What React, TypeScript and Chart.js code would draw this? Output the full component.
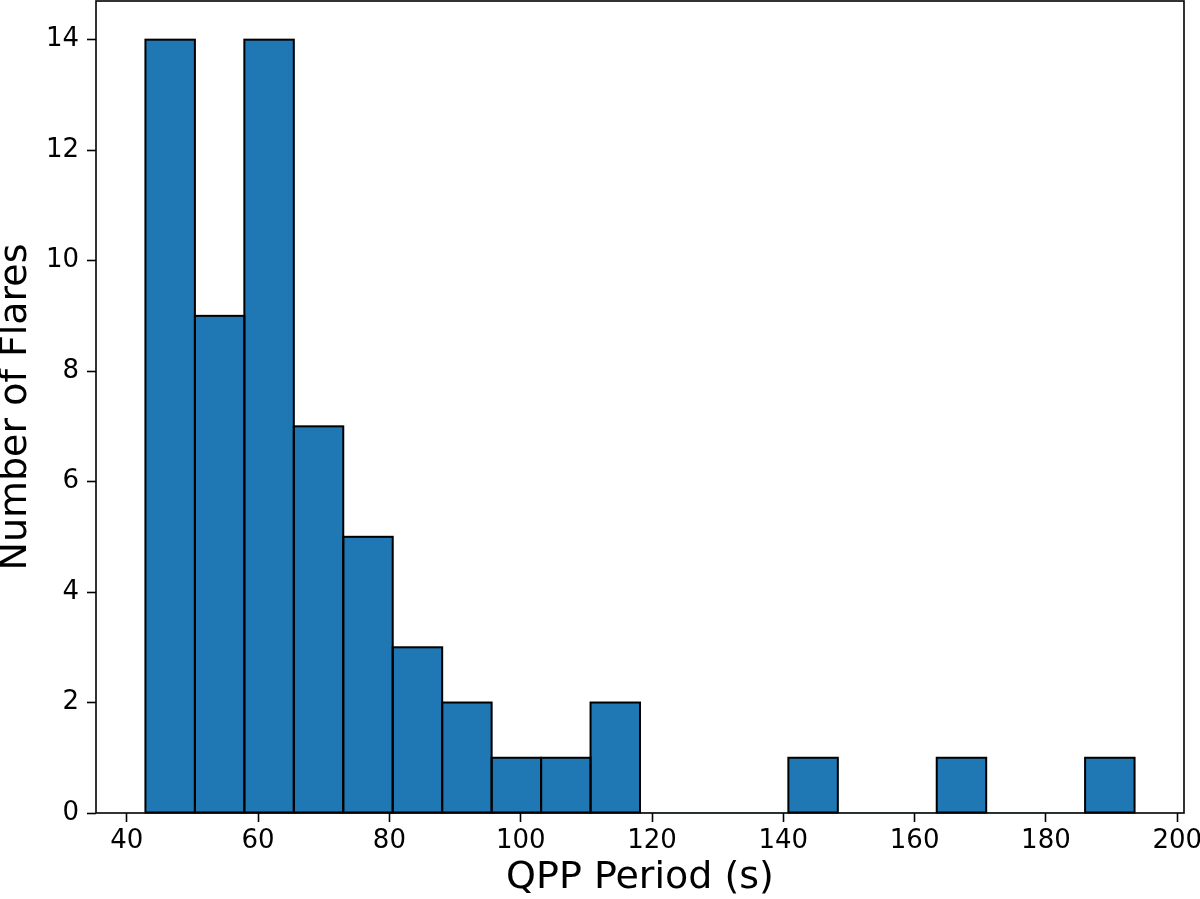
import React, { useEffect, useRef } from "react";
import { Chart, registerables } from "chart.js";

Chart.register(...registerables);

// Histogram data (20 equal-width bins between binStart and binEnd)
const binStart = 42.84;
const binEnd = 193.5;
const counts = [14, 9, 14, 7, 5, 3, 2, 1, 1, 2, 0, 0, 0, 1, 0, 0, 1, 0, 0, 1];
const xTicks = [40, 60, 80, 100, 120, 140, 160, 180, 200];
const yTicks = [0, 2, 4, 6, 8, 10, 12, 14];
const xLabel = "QPP Period (s)";
const yLabel = "Number of Flares";
const xMin = 35.31;
const xMax = 201.03;
const yMax = 14.7;

const FONT = "'DejaVu Sans', sans-serif";
const BAR_COLOR = "#1f77b4";

export default function App() {
  const canvasRef = useRef<HTMLCanvasElement | null>(null);

  useEffect(() => {
    if (!canvasRef.current) return;
    const binWidth = (binEnd - binStart) / counts.length;
    const points = counts.map((c, i) => ({ x: binStart + binWidth * (i + 0.5), y: c }));

    const outlinePlugin = {
      id: "outlineAndFrame",
      afterDatasetsDraw(chart: any) {
        const ctx = chart.ctx as CanvasRenderingContext2D;
        const meta = chart.getDatasetMeta(0);
        ctx.save();
        ctx.strokeStyle = "#000";
        ctx.lineWidth = 2;
        meta.data.forEach((el: any, i: number) => {
          if (counts[i] <= 0) return;
          const { x, y, base, width } = el.getProps(["x", "y", "base", "width"], true);
          ctx.strokeRect(x - width / 2, y, width, base - y);
        });
        const a = chart.chartArea;
        ctx.lineWidth = 1.6;
        ctx.strokeRect(a.left, a.top, a.right - a.left, a.bottom - a.top);
        ctx.restore();
      },
    };

    const chart = new Chart(canvasRef.current, {
      type: "bar",
      data: {
        datasets: [
          {
            data: points as any,
            backgroundColor: BAR_COLOR,
            borderWidth: 0,
            barPercentage: 1,
            categoryPercentage: 1,
          },
        ],
      },
      options: {
        animation: false,
        responsive: false,
        maintainAspectRatio: false,
        layout: { padding: { top: 1, right: 16, left: 0, bottom: 0 } },
        plugins: { legend: { display: false }, tooltip: { enabled: false } },
        scales: {
          x: {
            type: "linear",
            min: xMin,
            max: xMax,
            offset: false,
            grid: {
              display: true,
              offset: false,
              drawOnChartArea: false,
              drawTicks: true,
              tickLength: 9,
              tickWidth: 1.6,
              tickColor: "#000",
            },
            border: { display: false },
            ticks: {
              color: "#000",
              padding: 6,
              maxRotation: 0,
              autoSkip: false,
              font: { family: FONT, size: 26, lineHeight: 1 },
            },
            title: {
              display: true,
              text: xLabel,
              color: "#000",
              font: { family: FONT, size: 38, lineHeight: 0.8 },
              padding: { top: 0, bottom: 6 },
            },
            afterBuildTicks: (scale: any) => {
              scale.ticks = xTicks.map((v) => ({ value: v }));
            },
            afterFit: (scale: any) => {
              scale.height = 86;
              scale.paddingLeft = 0;
              scale.paddingRight = 0;
            },
          },
          y: {
            type: "linear",
            min: 0,
            max: yMax,
            grid: {
              display: true,
              offset: false,
              drawOnChartArea: false,
              drawTicks: true,
              tickLength: 9,
              tickWidth: 1.6,
              tickColor: "#000",
            },
            border: { display: false },
            ticks: {
              color: "#000",
              padding: 8,
              font: { family: FONT, size: 26, lineHeight: 1 },
            },
            title: {
              display: true,
              text: yLabel,
              color: "#000",
              font: { family: FONT, size: 38, lineHeight: 0.8 },
              padding: { top: 1, bottom: 0 },
            },
            afterBuildTicks: (scale: any) => {
              scale.ticks = yTicks.map((v) => ({ value: v }));
            },
            afterFit: (scale: any) => {
              scale.width = 96;
              scale.paddingTop = 0;
              scale.paddingBottom = 0;
            },
          },
        },
      },
      plugins: [outlinePlugin],
    });
    return () => chart.destroy();
  }, []);

  return (
    <div style={{ position: "absolute", left: 0, top: 0, width: 1200, height: 899, background: "#fff" }}>
      <canvas ref={canvasRef} width={1200} height={899} />
    </div>
  );
}
